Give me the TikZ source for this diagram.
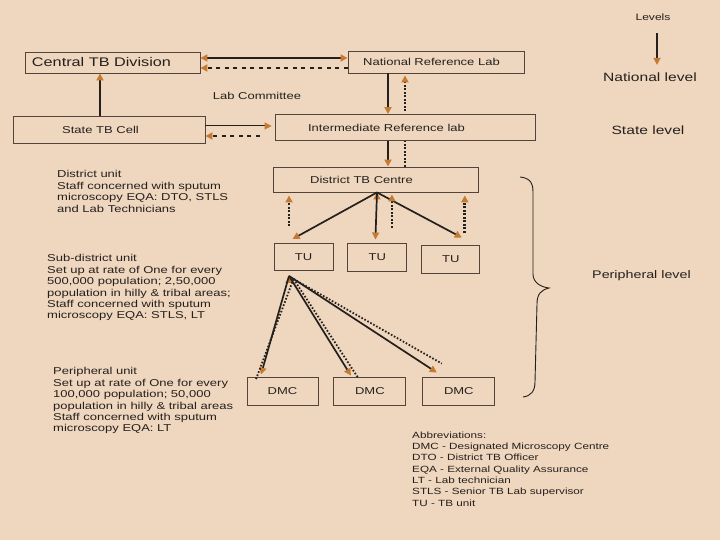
\documentclass[tikz,border=0pt]{standalone}
\usepackage{fontspec}
\setmainfont[FakeStretch=1.3]{Liberation Sans}
\usetikzlibrary{arrows.meta,positioning}

\definecolor{paper}{RGB}{238,214,191}
\definecolor{ink}{RGB}{38,32,28}
\definecolor{frame}{RGB}{82,68,58}
\definecolor{tip}{RGB}{196,122,48}

\begin{document}
\begin{tikzpicture}[x=1pt,y=-1pt,>={Triangle[length=7pt,width=7pt,color=tip]},inner sep=0pt,text=ink,
  font=\fontsize{10pt}{11.4pt}\selectfont]
  \tikzstyle{box}=[draw=frame,line width=0.9pt,minimum height=26pt]
  \tikzstyle{flow}=[->,draw=ink,line width=1.7pt]
  \tikzstyle{back}=[->,draw=ink,line width=2.8pt,dash pattern=on 2pt off 1.5pt]
  \tikzstyle{longdots}=[dash pattern=on 4pt off 4.5pt,line width=2.2pt]
  \tikzstyle{thindots}=[draw=ink,line width=1.8pt,dash pattern=on 1.6pt off 1.8pt]
  \tikzstyle{note}=[anchor=north west,align=left]

  \fill[paper] (0,0) rectangle (720,540);
  \useasboundingbox (0,0) rectangle (720,540);

  \node[box,minimum width=175pt,minimum height=21pt,font=\fontsize{12.5pt}{14pt}\selectfont] (cent) at (112.5,62.5) {Central TB Division\hspace*{22pt}};
  \node[box,minimum width=176pt,minimum height=22pt] (nrl) at (436,62) {National Reference Lab\hspace*{9pt}};
  \node[box,minimum width=192pt,minimum height=27pt] (stc) at (109,129.5) {State TB Cell\hspace*{17pt}};
  \node[box,minimum width=260pt] (irl) at (405,127.5) {Intermediate Reference lab\hspace*{37pt}};
  \node[box,minimum width=205pt,minimum height=25pt] (dtc) at (375.5,179.5) {District TB Centre\hspace*{28pt}};

  \node[box,minimum width=59pt,minimum height=27pt] (tu1) at (303.5,257) {TU};
  \node[box,minimum width=59pt,minimum height=28pt] (tu2) [right=14pt of tu1] {TU};
  \node[box,minimum width=58pt,minimum height=28pt] (tu3) [right=14pt of tu2,yshift=-2pt] {TU};

  \node[box,minimum width=71pt,minimum height=28pt] (dmc1) at (282.5,391) {DMC};
  \node[box,minimum width=72pt,minimum height=28pt] (dmc2) [right=15pt of dmc1] {DMC};
  \node[box,minimum width=72pt,minimum height=28pt] (dmc3) [right=16pt of dmc2] {DMC};

  \node (lab) at (257,96) {Lab Committee};
  \node[font=\fontsize{9.3pt}{11pt}\selectfont] (lev) at (653,17) {Levels};
  \node[font=\fontsize{12pt}{14pt}\selectfont] (natl) at (650,77) {National level};
  \node[font=\fontsize{12pt}{14pt}\selectfont] (statel) at (648,130) {State level};
  \node[font=\fontsize{11pt}{13pt}\selectfont] (peril) at (641.5,276) {Peripheral level};

  \node[note] (dunit) at (57,170.5) {District unit\\Staff concerned with sputum\\microscopy EQA: DTO, STLS\\and Lab Technicians};
  \node[note] (sunit) at (47,254.5) {Sub-district unit\\Set up at rate of One for every\\500,000 population; 2,50,000\\population in hilly \& tribal areas;\\Staff concerned with sputum\\microscopy EQA: STLS, LT};
  \node[note] (punit) at (53,367.5) {Peripheral unit\\Set up at rate of One for every\\100,000 population; 50,000\\population in hilly \& tribal areas\\Staff concerned with sputum\\microscopy EQA: LT};
  \node[note,font=\fontsize{9pt}{11.3pt}\selectfont] (abbr) at (412,431.5) {Abbreviations:\\DMC - Designated Microscopy Centre\\DTO - District TB Officer\\EQA - External Quality Assurance\\LT - Lab technician\\STLS - Senior TB Lab supervisor\\TU - TB unit};

  \coordinate (cn1) at ([yshift=4.5pt]cent.east);
  \coordinate (cn2) at ([yshift=-5.5pt]cent.east);
  \draw[flow,<->] (cn1) -- (cn1 -| nrl.west);
  \draw[back,longdots] (cn2 -| nrl.west) -- (cn2);

  \coordinate (sc) at ([xshift=-9pt]stc.north);
  \draw[flow] (sc) -- (sc |- cent.south);

  \coordinate (si1) at ([yshift=3.5pt]stc.east);
  \coordinate (si2) at ([yshift=-6.5pt]stc.east);
  \draw[flow,line width=1pt,shorten >=3pt] (si1) -- (si1 -| irl.west);
  \draw[back,longdots,shorten <=15pt] (si2 -| irl.west) -- (si2);

  \coordinate (ni1) at ([xshift=-48pt]nrl.south);
  \coordinate (ni2) at ([xshift=-31pt]nrl.south);
  \draw[flow] (ni1) -- (ni1 |- irl.north);
  \draw[back,shorten <=3pt,shorten >=2pt] (ni2 |- irl.north) -- (ni2);

  \coordinate (id1) at ([xshift=-17pt]irl.south);
  \draw[flow] (id1) -- (id1 |- dtc.north);
  \draw[back,-] (irl.south |- dtc.north) -- (irl.south);

  \coordinate (dt) at ([xshift=1.5pt]dtc.south);
  \coordinate (tu1in) at ([xshift=-11pt,yshift=4pt]tu1.north);
  \coordinate (tu2in) at ([xshift=-2pt,yshift=3pt]tu2.north);
  \coordinate (tu3in) at ([xshift=11pt,yshift=7pt]tu3.north);
  \path[flow] (dt) edge (tu1in) edge (tu2in) edge (tu3in);

  \coordinate (tb1) at ([xshift=-14.5pt]tu1.north);
  \coordinate (tb2) at ([xshift=14.5pt]tu2.north);
  \coordinate (tb3) at ([xshift=14pt]tu3.north);
  \draw[back,shorten <=17pt,shorten >=3pt] (tb1) -- (tb1 |- dtc.south);
  \draw[back,shorten <=15pt,shorten >=2pt] (tb2) -- (tb2 |- dtc.south);
  \draw[back,shorten <=12pt,shorten >=3pt] (tb3) -- (tb3 |- dtc.south);

  \coordinate (tf) at ([xshift=-14.5pt,yshift=-5pt]tu1.south);
  \coordinate (tg) at ([xshift=-10pt,yshift=-8pt]tu1.south);
  \coordinate (dm1in) at ([xshift=-21.5pt,yshift=2pt]dmc1.north);
  \coordinate (dm2in) at ([xshift=-19pt,yshift=1pt]dmc2.north);
  \coordinate (dm3in) at ([xshift=-22pt,yshift=4pt]dmc3.north);
  \path[flow] (tf) edge (dm1in) edge (dm2in) edge (dm3in);
  \draw[thindots] (tg) -- ([xshift=-27pt,yshift=-4pt]dmc1.north);
  \draw[thindots] (tg) -- ([xshift=-12pt,yshift=-1pt]dmc2.north);
  \draw[thindots] (tg) -- ([xshift=-17pt,yshift=13pt]dmc3.north);

  \coordinate (la) at ([xshift=4pt]lev.south);
  \draw[flow,line width=1.6pt,shorten <=12.5pt,shorten >=7.5pt] (la) -- (la |- natl.north);

  \draw[ink,line width=0.9pt] (520,177) .. controls (530,178) and (533,183) .. (533,192)
    -- (533,274) .. controls (533,282) and (540,287) .. (549,288)
    .. controls (541,290) and (537,294) .. (537,304)
    -- (535,382) .. controls (535,391) and (531,396) .. (523,397);
\end{tikzpicture}
\end{document}
